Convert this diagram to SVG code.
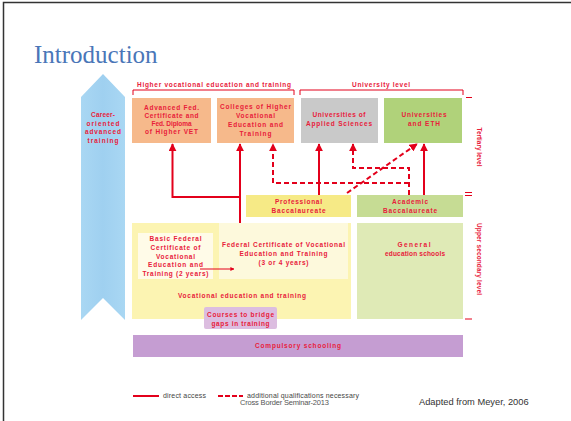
<svg xmlns="http://www.w3.org/2000/svg" width="571" height="421" viewBox="0 0 571 421">
<defs>
<style>
.t{font-family:"Liberation Sans",Arial,sans-serif;font-weight:bold;font-size:6.5px;fill:#e8203a;text-anchor:middle}
.ln{stroke:#e3001b;stroke-width:2;fill:none}
.ds{stroke:#e3001b;stroke-width:2;fill:none;stroke-dasharray:5,3}
.br{stroke:#e3001b;stroke-width:1;fill:none}
.lg{font-family:"Liberation Sans",Arial,sans-serif;font-size:7px;fill:#444}
</style>
<marker id="ah" viewBox="0 0 10 10" refX="9" refY="5" markerWidth="4" markerHeight="4" orient="auto">
<path d="M0,0 L10,5 L0,10 z" fill="#e3001b"/>
</marker>
<linearGradient id="bl" x1="0" y1="0" x2="1" y2="0">
<stop offset="0" stop-color="#a9d7f3"/>
<stop offset="0.5" stop-color="#9fd0f0"/>
<stop offset="1" stop-color="#a9d7f3"/>
</linearGradient>
</defs>
<rect x="0" y="0" width="571" height="421" fill="#fff"/>
<path d="M3.5,421 V2.5 H571" stroke="#333" stroke-width="1.5" fill="none"/>
<text x="34" y="63" font-family="Liberation Serif,'Times New Roman',serif" font-size="25" fill="#4a76b8">Introduction</text>

<g id="career">
<polygon points="81,97 103,74 125,97 125,320 103,298 81,320" fill="url(#bl)"/>
<text class="t" x="103" y="117" textLength="24" lengthAdjust="spacing">Career-</text>
<text class="t" x="103" y="125.5" textLength="33" lengthAdjust="spacing">oriented</text>
<text class="t" x="103" y="134" textLength="36" lengthAdjust="spacing">advanced</text>
<text class="t" x="103" y="142.5" textLength="31" lengthAdjust="spacing">training</text>
</g>

<g id="brackets">
<path class="br" d="M133,95 V90 H294 V95"/>
<text class="t" x="214" y="87" textLength="154" lengthAdjust="spacing">Higher vocational education and training</text>
<path class="br" d="M300,95 V90 H463 V95"/>
<text class="t" x="381" y="87" textLength="58" lengthAdjust="spacing">University level</text>
<path class="br" d="M466,97.5 H472 M465,192.5 H472 M465,195.5 H472 M465,319 H472"/>
<text class="t" transform="translate(477,147) rotate(90)" textLength="39" lengthAdjust="spacing">Tertiary level</text>
<text class="t" transform="translate(477,259) rotate(90)" textLength="72" lengthAdjust="spacing">Upper secondary level</text>
</g>

<g id="advfed">
<rect x="132" y="98" width="79" height="45" fill="#f6b98b"/>
<text class="t" x="171.5" y="110" textLength="55" lengthAdjust="spacing">Advanced Fed.</text>
<text class="t" x="171.5" y="118" textLength="54" lengthAdjust="spacing">Certificate and</text>
<text class="t" x="171.5" y="126" textLength="40" lengthAdjust="spacing">Fed. Diploma</text>
<text class="t" x="171.5" y="134" textLength="53" lengthAdjust="spacing">of Higher VET</text>
</g>
<g id="colleges">
<rect x="217" y="98" width="77" height="45" fill="#f6b98b"/>
<text class="t" x="255.5" y="109" textLength="71" lengthAdjust="spacing">Colleges of Higher</text>
<text class="t" x="255.5" y="118" textLength="39" lengthAdjust="spacing">Vocational</text>
<text class="t" x="255.5" y="127" textLength="55" lengthAdjust="spacing">Education and</text>
<text class="t" x="255.5" y="136" textLength="32" lengthAdjust="spacing">Training</text>
</g>
<g id="uas">
<rect x="301" y="98" width="77" height="45" fill="#c9c9c9"/>
<text class="t" x="339" y="117" textLength="53" lengthAdjust="spacing">Universities of</text>
<text class="t" x="339" y="126" textLength="66" lengthAdjust="spacing">Applied Sciences</text>
</g>
<g id="eth">
<rect x="384" y="98" width="78" height="45" fill="#b0d27a"/>
<text class="t" x="424" y="117" textLength="45" lengthAdjust="spacing">Universities</text>
<text class="t" x="424" y="126" textLength="32" lengthAdjust="spacing">and ETH</text>
</g>

<g id="profbacc">
<rect x="246" y="195" width="105" height="22" fill="#f6ea86"/>
<text class="t" x="298.5" y="204" textLength="47" lengthAdjust="spacing">Professional</text>
<text class="t" x="298.5" y="213" textLength="54" lengthAdjust="spacing">Baccalaureate</text>
</g>
<g id="acadbacc">
<rect x="357" y="195" width="106" height="22" fill="#c6dc94"/>
<text class="t" x="410" y="204" textLength="36" lengthAdjust="spacing">Academic</text>
<text class="t" x="410" y="213" textLength="54" lengthAdjust="spacing">Baccalaureate</text>
</g>

<g id="vet">
<rect x="132" y="223" width="219" height="96" fill="#fcf4b2"/>
<text class="t" x="242" y="298" textLength="128" lengthAdjust="spacing">Vocational education and training</text>
</g>
<g id="basic">
<rect x="138" y="233" width="75" height="46" fill="#fffbe8"/>
<text class="t" x="175.5" y="241" textLength="52" lengthAdjust="spacing">Basic Federal</text>
<text class="t" x="175.5" y="250" textLength="50" lengthAdjust="spacing">Certificate of</text>
<text class="t" x="175.5" y="258.5" textLength="39" lengthAdjust="spacing">Vocational</text>
<text class="t" x="175.5" y="267" textLength="55" lengthAdjust="spacing">Education and</text>
<text class="t" x="175.5" y="276" textLength="66" lengthAdjust="spacing">Training (2 years)</text>
</g>
<g id="fedcert">
<rect x="219" y="223" width="129" height="56" fill="#fdf9dc"/>
<text class="t" x="283.5" y="247" textLength="123" lengthAdjust="spacing">Federal Certificate of Vocational</text>
<text class="t" x="283.5" y="256" textLength="88" lengthAdjust="spacing">Education and Training</text>
<text class="t" x="283.5" y="265" textLength="50" lengthAdjust="spacing">(3 or 4 years)</text>
</g>
<g id="general">
<rect x="357" y="223" width="106" height="96" fill="#dfeab6"/>
<text class="t" x="414" y="247" textLength="33" lengthAdjust="spacing">General</text>
<text class="t" x="415" y="256" textLength="60" lengthAdjust="spacing">education schools</text>
</g>
<g id="courses">
<rect x="204" y="307" width="73" height="22" rx="2" fill="#dcbde0"/>
<text class="t" x="240.5" y="316.5" textLength="67" lengthAdjust="spacing">Courses to bridge</text>
<text class="t" x="240.5" y="325.5" textLength="58" lengthAdjust="spacing">gaps in training</text>
</g>
<g id="compulsory">
<rect x="133" y="335" width="330" height="22" fill="#c59dd2"/>
<text class="t" x="298" y="348" textLength="86" lengthAdjust="spacing">Compulsory schooling</text>
</g>

<g id="connectors">
<path class="ln" d="M240,223 V197 H172.5 V144" marker-end="url(#ah)"/>
<path class="ln" d="M240,197 V144" marker-end="url(#ah)"/>
<path class="ln" d="M319,195 V144" marker-end="url(#ah)"/>
<path class="ln" d="M424,195 V144" marker-end="url(#ah)"/>
<path class="ds" d="M409,195 V168 H353 V144" marker-end="url(#ah)"/>
<path class="ds" d="M409,183 H273 V144" marker-end="url(#ah)"/>
<path class="ds" d="M347,193 L417,144" marker-end="url(#ah)"/>
<path stroke="#e3001b" stroke-width="1" fill="none" d="M200,269 H234" marker-end="url(#ah)"/>
</g>

<g id="legend">
<line x1="133" y1="396" x2="159" y2="396" stroke="#e3001b" stroke-width="2"/>
<text class="lg" x="163" y="398" textLength="43" lengthAdjust="spacing">direct access</text>
<line x1="218" y1="396" x2="243" y2="396" stroke="#e3001b" stroke-width="2" stroke-dasharray="5,2"/>
<text class="lg" x="247" y="398" textLength="112" lengthAdjust="spacing">additional qualifications necessary</text>
<text x="240" y="405" font-family="Liberation Sans,Arial,sans-serif" font-size="7.5" fill="#555" textLength="89" lengthAdjust="spacing">Cross Border Seminar-2013</text>
<text x="419" y="405" font-family="Liberation Sans,Arial,sans-serif" font-size="9.3" fill="#333">Adapted from Meyer, 2006</text>
</g>
</svg>
